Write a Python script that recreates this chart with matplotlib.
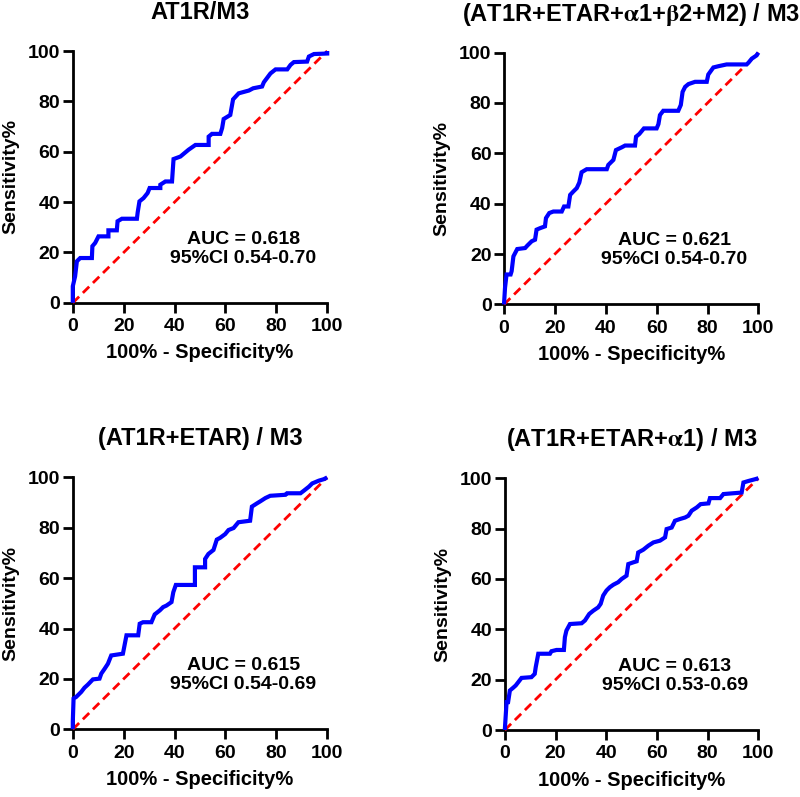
import numpy as np
import matplotlib
matplotlib.use("Agg")
import matplotlib.pyplot as plt

plt.rcParams['font.family'] = ['Liberation Sans', 'DejaVu Sans']
plt.rcParams['font.weight'] = 'bold'
plt.rcParams['mathtext.fontset'] = 'stix'

titles = [
    "AT1R/M3",
    r"(AT1R+ETAR+$\mathrm{\alpha}$1+$\mathrm{\beta}$2+M2) / M3",
    "(AT1R+ETAR) / M3",
    r"(AT1R+ETAR+$\mathrm{\alpha}$1) / M3",
]
auc_labels = ["AUC = 0.618\n95%CI 0.54-0.70",
              "AUC = 0.621\n95%CI 0.54-0.70",
              "AUC = 0.615\n95%CI 0.54-0.69",
              "AUC = 0.613\n95%CI 0.53-0.69"]

# ROC vertices: 100% - specificity% (fpr) and sensitivity% (tpr)
fpr_1 = [0, 0, 0.9, 1.6, 2.9, 7.5, 7.7, 8.8, 10.1, 14, 14, 17.3, 17.6, 19.3, 25.2, 25.5,
         26.2, 27.8, 29.4, 30.2, 34.4, 34.4, 36.4, 39, 39.6, 42.3, 45.5, 48.2, 53.4, 53.4,
         54.7, 58, 58.7, 59.3, 61.9, 63, 65.2, 69.2, 70.9, 74.4, 75.1, 77.7, 79.7, 84.3,
         85.6, 86.9, 92.1, 92.8, 94.8, 100, 100]
tpr_1 = [0, 6.6, 10.5, 16.5, 17.8, 17.8, 22.5, 23.8, 26.4, 26.4, 28.8, 28.8, 32.4, 33.4, 33.4, 35.9,
         40.3, 41.6, 43.6, 45.6, 45.6, 46.9, 48.2, 48.2, 57.1, 58.1, 60.8, 62.7, 62.7, 66,
         67.1, 67.1, 69.4, 73, 74.6, 80.8, 83.2, 84.3, 85.2, 85.9, 87.6, 91.1, 92.7, 92.7,
         94.5, 95.6, 95.8, 97.8, 98.8, 99, 100]

fpr_2 = [0, 0.4, 1, 2.6, 3, 3.7, 5.2, 8.3, 9.2, 10.9, 12.2, 12.8, 14.2, 16.1, 16.5, 17.8,
         19.4, 22.7, 23.6, 25.3, 26, 27.3, 28.6, 29.6, 30.5, 32.5, 40.4, 41, 43, 44, 46.3,
         47.6, 51.5, 51.9, 53.2, 55, 60, 60.7, 61.3, 62.6, 68.5, 69.5, 70.2, 71.2, 72.5,
         75.1, 79.7, 80.3, 82.3, 84.3, 87.5, 95.4, 96.1, 97.4, 99.3, 100]
tpr_2 = [0, 6.6, 11.9, 11.9, 13.2, 19.1, 22, 22.4, 23.4, 25.1, 25.7, 29.7, 30.3, 31, 34.3, 36.3,
         36.9, 36.9, 38.9, 38.9, 43.5, 44.9, 46.2, 48.4, 52.5, 53.7, 53.7, 55.4, 57.4, 61.3, 62.4,
         63.1, 63.1, 66.6, 67.7, 69.9, 69.9, 71.6, 75.2, 76.9, 76.9, 79.2, 84.4, 86.4, 87.5,
         88.4, 88.4, 91.3, 94.1, 94.6, 95.3, 95.3, 96, 97.6, 98.9, 100]

fpr_3 = [0, 0, 0.3, 1.3, 2.4, 3.3, 4.6, 5.9, 7.9, 10.5, 11.2, 12.5, 13.8, 15.1, 19.7, 21.1,
         25.7, 26.3, 27.6, 30.9, 32.2, 34.2, 35.5, 36.8, 38.8, 39.5, 40.5, 48, 48, 52, 52,
         53.3, 55.3, 56.6, 57.9, 59.9, 61.2, 63.2, 65.1, 69.7, 70.4, 72.4, 73.7, 75.7, 77.6,
         83.6, 84.2, 89.5, 90.8, 92.8, 94.1, 96.7, 98.7, 100]
tpr_3 = [0, 3, 12.2, 12.8, 13.9, 14.8, 16.5, 17.7, 19.8, 20.1, 22.1, 24, 26, 29.3, 30, 37.3,
         37.3, 41.9, 42.5, 42.5, 45.6, 47.2, 48.5, 49.1, 50.5, 54.4, 57.3, 57.3, 64.3, 64.3, 67.6,
         69.6, 71.2, 75.3, 76, 77.5, 79.1, 79.9, 82.2, 82.8, 88.4, 89.7, 90.5, 91.8, 92.7,
         93.1, 93.7, 93.7, 94.7, 96.3, 97.6, 98.7, 99.3, 100]

fpr_4 = [0, 0.7, 1.3, 2, 3.3, 4.3, 5.3, 6.6, 10.5, 11.8, 12.2, 13.2, 17.8, 18.4, 20.4, 23.3,
         23.7, 24.3, 25.7, 30.3, 31.6, 33.3, 34.9, 36.8, 37.8, 38.8, 40.1, 41.4, 42.8, 44.7,
         46.1, 48, 48.7, 50.7, 52, 52.6, 54.6, 56.6, 58.6, 61.2, 63.2, 63.8, 65.8, 67.1,
         69.1, 71.1, 72.4, 73.7, 75.7, 77.2, 80.3, 80.9, 84.9, 86.2, 93.4, 94.1, 96.1, 98.7, 100]
tpr_4 = [0, 11.1, 11.1, 15.7, 16.8, 17.7, 19, 20.7, 21, 22.3, 25, 30.3, 30.3, 31.3, 31.8, 31.8,
         36.9, 39.5, 42.1, 42.4, 43.5, 46.1, 47.4, 48.7, 50.1, 53.4, 55.4, 56.7, 57.7, 58.7,
         60, 61.3, 65.9, 66.6, 67, 70.5, 71.6, 73.2, 74.5, 75.2, 76.5, 79.8, 80.4, 83.1,
         83.8, 84.4, 85.1, 87.1, 88.4, 89.7, 90, 92.1, 92.1, 93.7, 94.3, 98.3, 98.9, 99.6, 100]

curves = [(fpr_1, tpr_1), (fpr_2, tpr_2), (fpr_3, tpr_3), (fpr_4, tpr_4)]
ticks = [0, 20, 40, 60, 80, 100]

fig = plt.figure(figsize=(8, 7.97), dpi=100)
rects = [[0.091, 0.620, 0.318, 0.316],
         [0.630, 0.618, 0.318, 0.316],
         [0.091, 0.085, 0.318, 0.316],
         [0.631, 0.084, 0.317, 0.316]]

for i in range(4):
    ax = fig.add_axes(rects[i])
    x, y = curves[i]
    # chance line
    ax.plot([0, 100], [0, 100], color="#ff0000", linewidth=2, linestyle=(0, (3.2, 1.9)),
            clip_on=False, zorder=3)
    ax.plot(x, y, color="#0000ff", linewidth=3, clip_on=False, zorder=4,
            solid_joinstyle="miter", solid_capstyle="butt")
    ax.set_xlim(0, 100)
    ax.set_ylim(0, 100)
    ax.set_xticks(ticks)
    ax.set_yticks(ticks)
    for s in ["top", "right"]:
        ax.spines[s].set_visible(False)
    for s in ["left", "bottom"]:
        ax.spines[s].set_linewidth(2)
    ax.tick_params(width=2, length=7, labelsize=14)
    ax.tick_params(axis="y", pad=2)
    ax.tick_params(axis="x", pad=4)
    for lab in ax.get_xticklabels() + ax.get_yticklabels():
        lab.set_fontweight("bold")
    ax.set_xlabel("100% - Specificity%", fontsize=14.5, fontweight="bold", labelpad=6)
    ax.set_ylabel("Sensitivity%", fontsize=14, fontweight="bold", labelpad=6)
    ax.set_title(titles[i], fontsize=17, fontweight="bold", pad=23)
    ax.text(67, 21.5, auc_labels[i], ha="center", va="center", fontsize=14,
            fontweight="bold", linespacing=1.15)

plt.savefig("out.png", dpi=100)
